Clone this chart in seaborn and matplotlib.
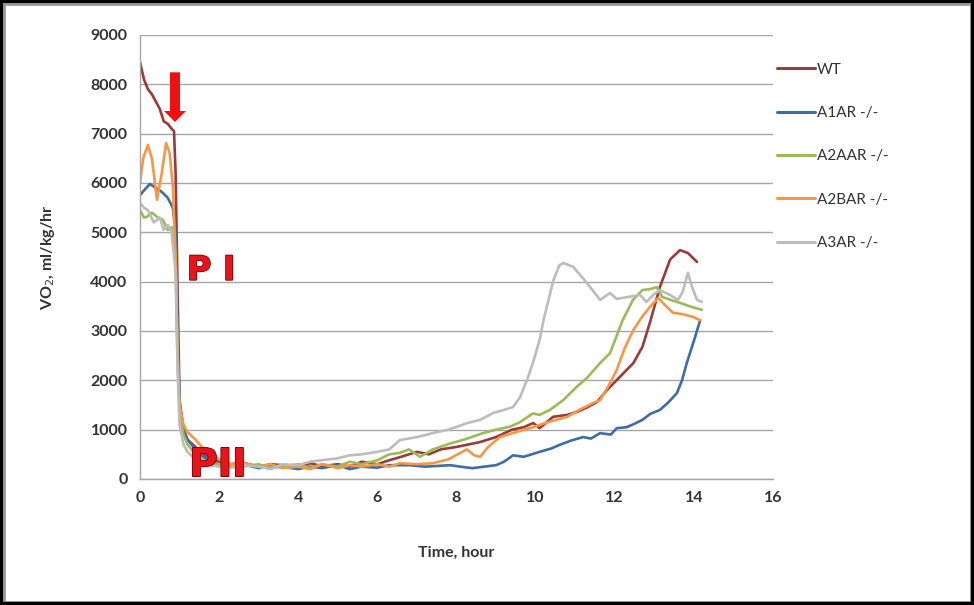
import matplotlib
matplotlib.use("Agg")
import matplotlib.pyplot as plt
import matplotlib.patheffects as pe
from matplotlib.patches import Rectangle
import numpy as np
import pandas as pd
import seaborn as sns

# ---- data: VO2 (ml/kg/hr) over time (hours) for each genotype ----
series_names = ["WT", "A1AR -/-", "A2AAR -/-", "A2BAR -/-", "A3AR -/-"]

t_wt = [0, 0.1, 0.2, 0.3, 0.4, 0.5, 0.6, 0.7, 0.8, 0.86, 0.9, 0.95, 1.0, 1.1, 1.2, 1.4, 1.6, 1.8,
        2.0, 2.3, 2.6, 3.0, 3.3, 3.6, 4.0, 4.3, 4.6, 5.0, 5.3, 5.6, 6.0, 6.3, 6.6, 7.0, 7.3, 7.6,
        8.0, 8.3, 8.6, 9.0, 9.4, 9.7, 9.94, 10.1, 10.44, 10.8, 11.04, 11.3, 11.55, 11.8, 12.13,
        12.47, 12.7, 12.9, 13.14, 13.4, 13.65, 13.85, 14.08]
vo2_wt = [8450, 8100, 7900, 7800, 7650, 7500, 7250, 7200, 7100, 7050, 6200, 3800, 1600, 1000, 800,
          650, 500, 420, 350, 300, 330, 250, 300, 280, 220, 320, 260, 300, 250, 350, 300, 380,
          450, 550, 500, 600, 650, 700, 750, 850, 1000, 1050, 1135, 1030, 1260, 1300, 1360, 1450,
          1560, 1800, 2070, 2350, 2680, 3200, 3890, 4450, 4640, 4580, 4400]

t_a1 = [0, 0.1, 0.25, 0.4, 0.55, 0.7, 0.83, 0.9, 0.95, 1.0, 1.1, 1.2, 1.4, 1.6, 1.8, 2.0, 2.3,
        2.6, 3.0, 3.3, 3.6, 4.0, 4.3, 4.6, 5.0, 5.3, 5.6, 6.0, 6.3, 6.8, 7.2, 7.84, 8.1, 8.4, 8.7,
        9.0, 9.2, 9.43, 9.7, 10.1, 10.4, 10.6, 10.9, 11.2, 11.4, 11.63, 11.9, 12.05, 12.3, 12.5,
        12.7, 12.9, 13.14, 13.35, 13.57, 13.7, 13.82, 14.0, 14.16]
vo2_a1 = [5750, 5850, 5980, 5900, 5820, 5700, 5500, 5000, 3000, 1500, 1000, 800, 600, 450, 350,
          300, 250, 300, 220, 280, 250, 200, 250, 220, 280, 200, 250, 230, 280, 280, 250, 280,
          250, 220, 250, 280, 350, 480, 450, 550, 620, 690, 780, 850, 820, 930, 900, 1030, 1050,
          1120, 1200, 1320, 1400, 1550, 1740, 2000, 2350, 2800, 3220]

t_a2a = [0, 0.1, 0.17, 0.3, 0.45, 0.58, 0.7, 0.8, 0.9, 0.95, 1.0, 1.1, 1.2, 1.4, 1.6, 1.8, 2.0,
         2.3, 2.6, 3.0, 3.3, 3.6, 4.0, 4.3, 4.6, 5.0, 5.3, 5.6, 6.0, 6.3, 6.57, 6.8, 7.08, 7.4,
         7.84, 8.2, 8.67, 9.0, 9.35, 9.6, 9.93, 10.1, 10.36, 10.7, 11.04, 11.3, 11.63, 11.88,
         12.2, 12.46, 12.7, 12.9, 13.06, 13.2, 13.45, 13.65, 13.9, 14.2]
vo2_a2a = [5450, 5300, 5310, 5400, 5300, 5250, 5050, 5100, 4500, 2500, 1300, 900, 700, 500, 380,
           320, 300, 280, 250, 300, 220, 250, 300, 220, 300, 250, 350, 300, 380, 500, 530, 600,
           450, 600, 720, 800, 930, 1000, 1060, 1150, 1330, 1300, 1400, 1600, 1870, 2050, 2350,
           2550, 3220, 3630, 3830, 3850, 3890, 3690, 3620, 3570, 3500, 3430]

t_a2b = [0, 0.08, 0.2, 0.3, 0.43, 0.55, 0.66, 0.75, 0.83, 0.9, 0.95, 1.0, 1.1, 1.2, 1.4, 1.6, 1.7,
         1.9, 2.1, 2.3, 2.6, 3.0, 3.3, 3.6, 4.0, 4.3, 4.6, 5.0, 5.3, 5.6, 6.0, 6.3, 6.57, 7.0, 7.4,
         7.8, 8.26, 8.45, 8.6, 8.8, 9.1, 9.5, 9.93, 10.3, 10.8, 11.1, 11.45, 11.63, 11.85, 12.05,
         12.25, 12.47, 12.7, 12.89, 13.1, 13.3, 13.47, 13.65, 13.82, 14.0, 14.15]
vo2_a2b = [6000, 6500, 6770, 6500, 5660, 6200, 6810, 6600, 5920, 4500, 2500, 1500, 1100, 950,
           800, 620, 530, 450, 350, 300, 330, 250, 300, 220, 250, 200, 300, 220, 280, 250, 300,
           250, 320, 300, 320, 400, 600, 480, 450, 650, 850, 950, 1050, 1150, 1260, 1400, 1540,
           1600, 1900, 2210, 2650, 3020, 3300, 3490, 3670, 3500, 3370, 3350, 3320, 3280, 3220]

t_a3 = [0, 0.1, 0.2, 0.35, 0.5, 0.6, 0.7, 0.8, 0.9, 0.95, 1.0, 1.1, 1.2, 1.4, 1.6, 1.8, 2.0, 2.3,
        2.6, 3.0, 3.3, 3.6, 4.0, 4.3, 4.6, 5.0, 5.3, 5.6, 6.0, 6.3, 6.57, 7.0, 7.4, 7.8, 8.26, 8.6,
        8.93, 9.2, 9.43, 9.6, 9.78, 9.95, 10.1, 10.2, 10.45, 10.6, 10.7, 10.95, 11.3, 11.63, 11.88,
        12.05, 12.2, 12.4, 12.64, 12.8, 13.0, 13.14, 13.4, 13.6, 13.72, 13.85, 13.95, 14.08, 14.2]
vo2_a3 = [5600, 5500, 5450, 5200, 5300, 5050, 5150, 5000, 4200, 2200, 1100, 700, 550, 400, 320,
          280, 250, 230, 280, 250, 200, 300, 280, 350, 380, 420, 480, 500, 550, 600, 790, 850,
          930, 1000, 1130, 1200, 1340, 1400, 1460, 1650, 2000, 2400, 2820, 3220, 4030, 4330,
          4380, 4300, 3970, 3630, 3770, 3650, 3670, 3700, 3730, 3590, 3750, 3830, 3730, 3630,
          3800, 4180, 3900, 3630, 3590]

x_ticks = [0, 2, 4, 6, 8, 10, 12, 14, 16]
y_ticks = [0, 1000, 2000, 3000, 4000, 5000, 6000, 7000, 8000, 9000]

line_colors = ["#9a3b38", "#3e6ca6", "#9bbb59", "#f79646", "#bcbcbc"]

frames = []
for name, tt, vv in zip(series_names,
                        [t_wt, t_a1, t_a2a, t_a2b, t_a3],
                        [vo2_wt, vo2_a1, vo2_a2a, vo2_a2b, vo2_a3]):
    frames.append(pd.DataFrame({"time": tt, "vo2": vv, "group": name}))
df = pd.concat(frames, ignore_index=True)

# ---- figure ----
sns.set_theme(style="white")
plt.rcParams["font.family"] = ["Lato", "DejaVu Sans"]

W, H = 974, 605
fig = plt.figure(figsize=(W / 100, H / 100), dpi=100)
ax = fig.add_axes([140 / W, 1 - 479 / H, (773 - 140) / W, (479 - 35) / H])

sns.lineplot(data=df, x="time", y="vo2", hue="group", hue_order=series_names,
             palette=line_colors, estimator=None, sort=True, linewidth=1.9,
             ax=ax, legend=True)

ax.set_xlim(0, 16)
ax.set_ylim(0, 9000)
ax.set_xticks(x_ticks)
ax.set_yticks(y_ticks)
ax.set_xticklabels([str(v) for v in x_ticks])
ax.set_yticklabels([str(v) for v in y_ticks])

text_col = "#333333"
for lab in ax.get_xticklabels() + ax.get_yticklabels():
    lab.set_fontweight("bold")
    lab.set_fontsize(11.5)
    lab.set_color(text_col)

ax.yaxis.grid(True, color="#a6a6a6", linewidth=1.0)
ax.xaxis.grid(False)
ax.set_axisbelow(True)
for side in ["top", "right"]:
    ax.spines[side].set_visible(False)
for side in ["left", "bottom"]:
    ax.spines[side].set_color("#a6a6a6")
    ax.spines[side].set_linewidth(1.0)
ax.tick_params(axis="both", which="major", direction="out", length=4,
               color="#a6a6a6", width=1.0, pad=5)

ax.set_xlabel("Time, hour", fontsize=11.5, fontweight="bold", color=text_col, labelpad=29)
ax.set_ylabel("VO$_2$, ml/kg/hr", fontsize=11.5, fontweight="bold", color=text_col, labelpad=24)

# legend on the right, outside the plot area
handles, labels = ax.get_legend_handles_labels()
ax.get_legend().remove()
leg = fig.legend(handles, labels, loc="upper left", bbox_to_anchor=(763 / W, 1 - 49 / H),
                 frameon=False, fontsize=11, handlelength=2.5, handletextpad=0.15,
                 labelspacing=1.92)
for txt in leg.get_texts():
    txt.set_color(text_col)
for ln in leg.get_lines():
    ln.set_linewidth(2.2)

# phase marker arrow and labels
ax.annotate("", xy=(0.885, 7180), xytext=(0.885, 8300),
            arrowprops=dict(arrowstyle="simple,head_length=1.1,head_width=2.2,tail_width=1.0",
                            mutation_scale=7.2, fc="#ee1111", ec="none"))

label_fx = [pe.withStroke(linewidth=1.2, foreground="#7a0000")]
ax.text(1.8, 4230, "P I", fontsize=24, fontweight="bold", color="#e8141c",
        family=["Liberation Sans Narrow", "DejaVu Sans"], ha="center", va="center",
        path_effects=label_fx)
ax.text(1.97, 280, "PII", fontsize=28, fontweight="bold", color="#e8141c",
        family=["Liberation Sans Narrow", "DejaVu Sans"], ha="center", va="center",
        path_effects=label_fx)

# picture frame around the whole figure
fig.patches.append(Rectangle((3.5 / W, 3.5 / H), 1 - 7 / W, 1 - 7 / H, transform=fig.transFigure,
                             fill=False, ec="#9a9a9a", lw=2.0))
fig.patches.append(Rectangle((0, 0), 1, 1, transform=fig.transFigure,
                             fill=False, ec="black", lw=4.5))

fig.savefig("out.png", dpi=100, facecolor="white")
